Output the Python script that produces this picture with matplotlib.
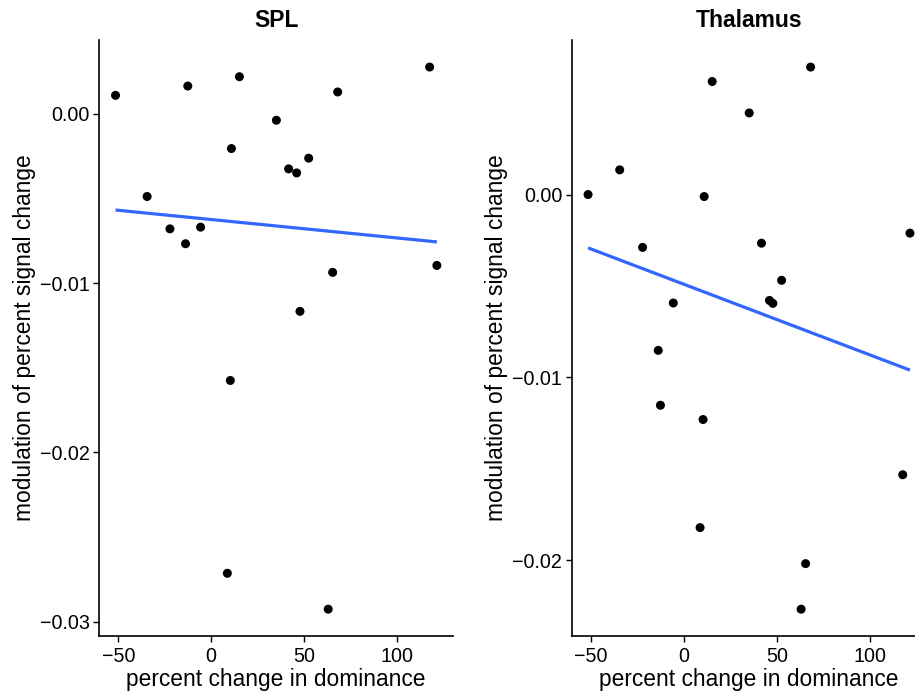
#!/usr/bin/env python
# -*- coding: utf-8 -*-

import numpy as np
import matplotlib
matplotlib.use('Agg')
import matplotlib.pyplot as plt
from matplotlib.ticker import FuncFormatter

plt.rcParams['font.family'] = ['Liberation Sans', 'DejaVu Sans']

# percent change in dominance, one value per subject
dominance = [-51.5, -34.5, -22.2, -13.8, -12.6, -5.7, 8.7, 10.3, 10.9, 15.2,
             35.1, 41.7, 46.0, 47.8, 52.5, 63.0, 65.4, 68.1, 117.6, 121.5]

# modulation of percent signal change per region
spl = [0.00108, -0.00489, -0.00680, -0.00768, 0.00163, -0.00670, -0.02713,
       -0.01575, -0.00206, 0.00218, -0.00039, -0.00326, -0.00350, -0.01167,
       -0.00263, -0.02925, -0.00937, 0.00128, 0.00275, -0.00896]
thalamus = [0.0, 0.00135, -0.00289, -0.00852, -0.01152, -0.00593, -0.01821,
            -0.01230, -0.00011, 0.00618, 0.00446, -0.00266, -0.00579, -0.00595,
            -0.00469, -0.02267, -0.02018, 0.00697, -0.01532, -0.00211]

regions = ['SPL', 'Thalamus']
values = [spl, thalamus]
y_ticks = [[0.0, -0.01, -0.02, -0.03], [0.0, -0.01, -0.02]]
x_ticks = [-50, 0, 50, 100]


def expanded(v, frac=0.05):
    lo, hi = min(v), max(v)
    pad = (hi - lo) * frac
    return lo - pad, hi + pad


def fmt(v, pos):
    s = '%.2f' % v
    if s == '-0.00':
        s = '0.00'
    return s.replace('-', '\u2212')


fig = plt.figure(figsize=(9.15, 6.96), dpi=100)
positions = [[0.1087, 0.0858, 0.3863, 0.8568],
             [0.6251, 0.0858, 0.3870, 0.8568]]

x = np.array(dominance)
for pos, name, yv, yt in zip(positions, regions, values, y_ticks):
    ax = fig.add_axes(pos)
    y = np.array(yv)
    ax.scatter(x, y, s=42, color='black', edgecolors='none', zorder=3)

    slope, icpt = np.polyfit(x, y, 1)
    xs = np.array([x.min(), x.max()])
    ax.plot(xs, slope * xs + icpt, color='#3366FF', lw=2.3, zorder=2,
            solid_capstyle='butt')

    ax.set_xlim(*expanded(x))
    ax.set_ylim(*expanded(y))
    ax.set_xticks(x_ticks)
    ax.set_yticks(yt)
    ax.yaxis.set_major_formatter(FuncFormatter(fmt))
    ax.xaxis.set_major_formatter(FuncFormatter(lambda v, p: ('%d' % v).replace('-', '\u2212')))

    for side in ['top', 'right']:
        ax.spines[side].set_visible(False)
    for side in ['left', 'bottom']:
        ax.spines[side].set_linewidth(1.2)
    ax.tick_params(direction='out', length=4, width=1.0, labelsize=14.2,
                   colors='black')
    ax.tick_params(axis='x', pad=4)
    ax.tick_params(axis='y', pad=3)

    ax.set_title(name, fontsize=16.5, fontweight='bold', pad=9)
    ax.set_xlabel('percent change in dominance', fontsize=16.4, labelpad=1)
    ax.set_ylabel('modulation of percent signal change', fontsize=16.4, labelpad=3)

fig.savefig('out.png', dpi=100)
